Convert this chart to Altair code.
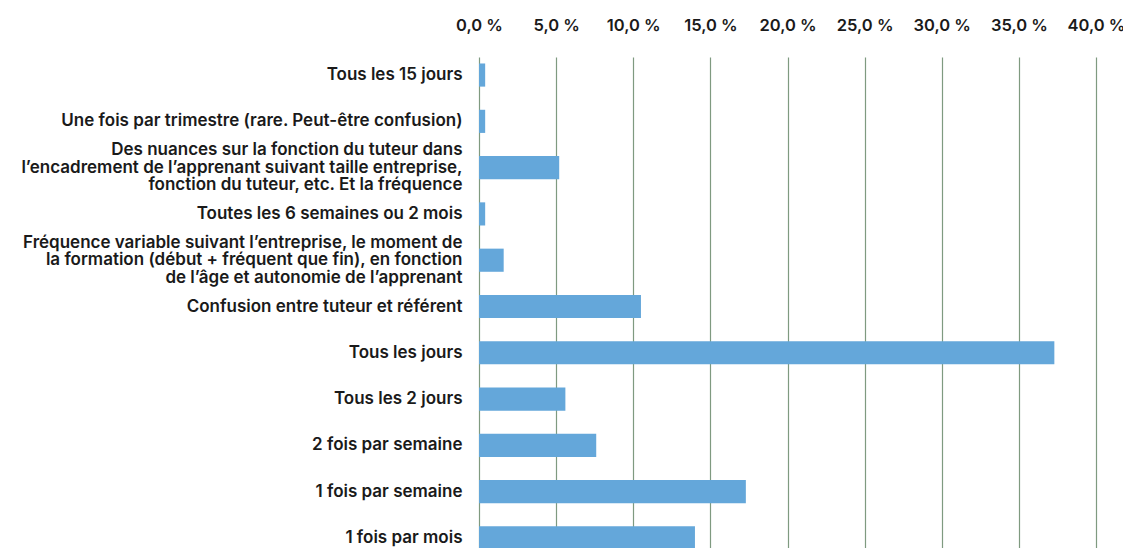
import altair as alt
import pandas as pd

categories = [
    "Tous les 15 jours",
    "Une fois par trimestre (rare. Peut-être confusion)",
    "Des nuances sur la fonction du tuteur dans\nl’encadrement de l’apprenant suivant taille entreprise,\nfonction du tuteur, etc. Et la fréquence",
    "Toutes les 6 semaines ou 2 mois",
    "Fréquence variable suivant l’entreprise, le moment de\nla formation (début + fréquent que fin), en fonction\nde l’âge et autonomie de l’apprenant",
    "Confusion entre tuteur et référent",
    "Tous les jours",
    "Tous les 2 jours",
    "2 fois par semaine",
    "1 fois par semaine",
    "1 fois par mois",
]
values = [0.4, 0.4, 5.2, 0.4, 1.6, 10.5, 37.3, 5.6, 7.6, 17.3, 14.0]
ticks = [0, 5, 10, 15, 20, 25, 30, 35, 40]

df = pd.DataFrame({"cat": categories, "val": values})

FONT = "Inter"
LH = 17.5

chart = (
    alt.Chart(df)
    .mark_bar(color="#64A7DA")
    .encode(
        x=alt.X(
            "val:Q",
            scale=alt.Scale(domain=[0, 40], nice=False),
            axis=alt.Axis(
                orient="top",
                values=ticks,
                title=None,
                domain=False,
                ticks=False,
                labelPadding=24,
                labelFlush=False,
                labelOverlap=False,
                labelExpr="replace(format(datum.value, '.1f'), '.', ',') + ' %'",
                grid=True,
                gridColor="#7F9A80",
                gridWidth=1.2,
                labelFont=FONT,
                labelFontSize=16.5,
                labelFontWeight=600,
                labelColor="#1a1a1a",
            ),
        ),
        y=alt.Y(
            "cat:N",
            sort=categories,
            scale=alt.Scale(paddingInner=0.5, paddingOuter=0.14, range=[0, 499]),
            axis=alt.Axis(
                title=None,
                domain=False,
                ticks=False,
                labelPadding=17,
                labelLimit=0,
                labelExpr="split(datum.label, '\\n')",
                labelLineHeight=LH,
                labelOffset=alt.ExprRef(
                    expr=f"-(length(split(datum.value, '\\n')) - 1) * {LH} / 2"
                ),
                labelFont=FONT,
                labelFontSize=17,
                labelFontWeight=600,
                labelColor="#1a1a1a",
            ),
        ),
    )
    .properties(
        width=617,
        height=491,
        autosize=alt.AutoSizeParams(type="none"),
        padding={"left": 471, "top": 49, "right": 27, "bottom": 0},
    )
    .configure_view(stroke=None)
)

chart.save("out.html", embed_options={"renderer": "svg", "actions": False})
